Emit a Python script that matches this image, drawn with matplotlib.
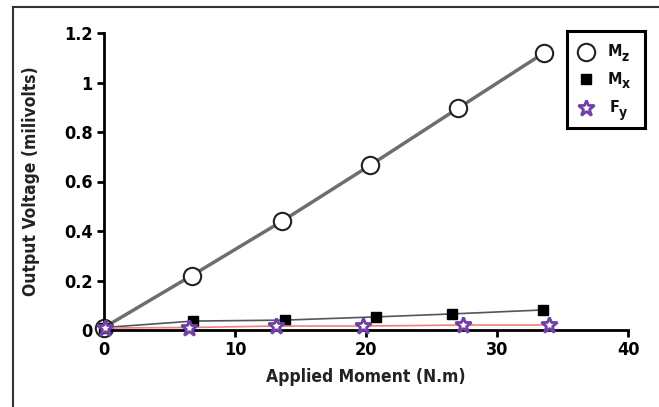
import matplotlib
matplotlib.use("Agg")
import matplotlib.pyplot as plt
from matplotlib.lines import Line2D
from matplotlib import font_manager

# look for a condensed bold sans font
cond = None
for f in font_manager.fontManager.ttflist:
    st = str(f.stretch)
    if ('Narrow' in f.name or 'Condensed' in f.name or st in ('condensed', 'semi-condensed', '75', '87')) \
            and f.weight in (700, 'bold') and 'Mono' not in f.name and 'Serif' not in f.name and 'Oblique' not in f.fname and 'Italic' not in f.fname:
        cond = f
        break
if cond is not None:
    fp = font_manager.FontProperties(fname=cond.fname)
else:
    fp = font_manager.FontProperties(family='Liberation Sans', weight='bold')

# Data
mz_x = [0, 6.7, 13.6, 20.3, 27.0, 33.6]
mz_y = [0.01, 0.22, 0.44, 0.665, 0.895, 1.12]
mx_x = [0, 6.8, 13.8, 20.8, 26.6, 33.5]
mx_y = [0.01, 0.036, 0.04, 0.053, 0.065, 0.081]
fy_x = [0.1, 6.5, 13.1, 19.8, 27.4, 34.0]
fy_y = [0.008, 0.01, 0.016, 0.016, 0.02, 0.02]
x_ticks = [0, 10, 20, 30, 40]
y_ticks = [0, 0.2, 0.4, 0.6, 0.8, 1.0, 1.2]
y_tick_labels = ['0', '0.2', '0.4', '0.6', '0.8', '1', '1.2']
legend_labels = ['M', 'M', 'F']
legend_subs = ['z', 'x', 'y']

fig = plt.figure(figsize=(6.59, 4.07), dpi=100)
ax = fig.add_axes([104/659, 1-330/407, (628-104)/659, (330-33)/407])

ln_mx, = ax.plot(mx_x, mx_y, color='#555555', lw=1.2, marker='s', ms=6.5,
                 mfc='black', mec='black', zorder=3)
ln_fy, = ax.plot(fy_x, fy_y, color='#f08080', lw=1.2, marker='*', ms=12,
                 mfc='white', mec='#7040a8', mew=2.0, zorder=4)
ln_mz, = ax.plot(mz_x, mz_y, color='#6e6e6e', lw=2.5, marker='o', ms=12.5,
                 mfc='white', mec='#222222', mew=1.5, zorder=2)

ax.set_xlim(0, 40)
ax.set_ylim(0, 1.2)
ax.set_xticks(x_ticks)
ax.set_yticks(y_ticks)
ax.set_yticklabels(y_tick_labels)
ax.spines['top'].set_visible(False)
ax.spines['right'].set_visible(False)
for s in ('left', 'bottom'):
    ax.spines[s].set_linewidth(2)
    ax.spines[s].set_clip_on(False)
ax.tick_params(direction='out', length=5, width=2, pad=3, colors='black')
for lab in ax.get_xticklabels() + ax.get_yticklabels():
    lab.set_fontproperties(fp)
    lab.set_fontsize(13)
ax.set_xlabel('Applied Moment (N.m)', fontproperties=fp, fontsize=12.5, color='#222222', va='center')
ax.set_ylabel('Output Voltage (milivolts)', fontproperties=fp, fontsize=12.5, color='#222222', va='center')
ax.xaxis.set_label_coords(0.5, -(377-330)/297)
ax.yaxis.set_label_coords((31-104)/524, 0.5)
for ln in ax.get_lines():
    ln.set_clip_on(False)

# legend box (drawn manually for subscript styling)
x0, y0, x1, y1 = 567/659, 1-128/407, 645/659, 1-31/407
leg_ax = fig.add_axes([x0, y0, x1-x0, y1-y0])
leg_ax.set_xlim(0, 78)
leg_ax.set_ylim(97, 0)
leg_ax.set_xticks([])
leg_ax.set_yticks([])
for s in leg_ax.spines.values():
    s.set_linewidth(2.2)
    s.set_color('black')
rows = [21, 48, 77]
handles = [ln_mz, ln_mx, ln_fy]
for r, h, lab, sub in zip(rows, handles, legend_labels, legend_subs):
    leg_ax.plot([19], [r], marker=h.get_marker(), ms=h.get_markersize(),
                mfc=h.get_markerfacecolor(), mec=h.get_markeredgecolor(),
                mew=h.get_markeredgewidth(), linestyle='none')
    leg_ax.text(41 if lab == 'M' else 43, r, lab, fontproperties=fp, fontsize=11.5,
                va='center', ha='left', color='#111111')
    leg_ax.text(55 if lab == 'M' else 52, r + 5, sub, fontproperties=fp, fontsize=10,
                va='center', ha='left', color='#111111')

# outer frame
fig.add_artist(Line2D([13/659, 13/659], [0, 1-7/407], transform=fig.transFigure, color='#333333', lw=1.5))
fig.add_artist(Line2D([13/659, 1], [1-7/407, 1-7/407], transform=fig.transFigure, color='#333333', lw=1.5))

fig.savefig('out.png', dpi=100)
